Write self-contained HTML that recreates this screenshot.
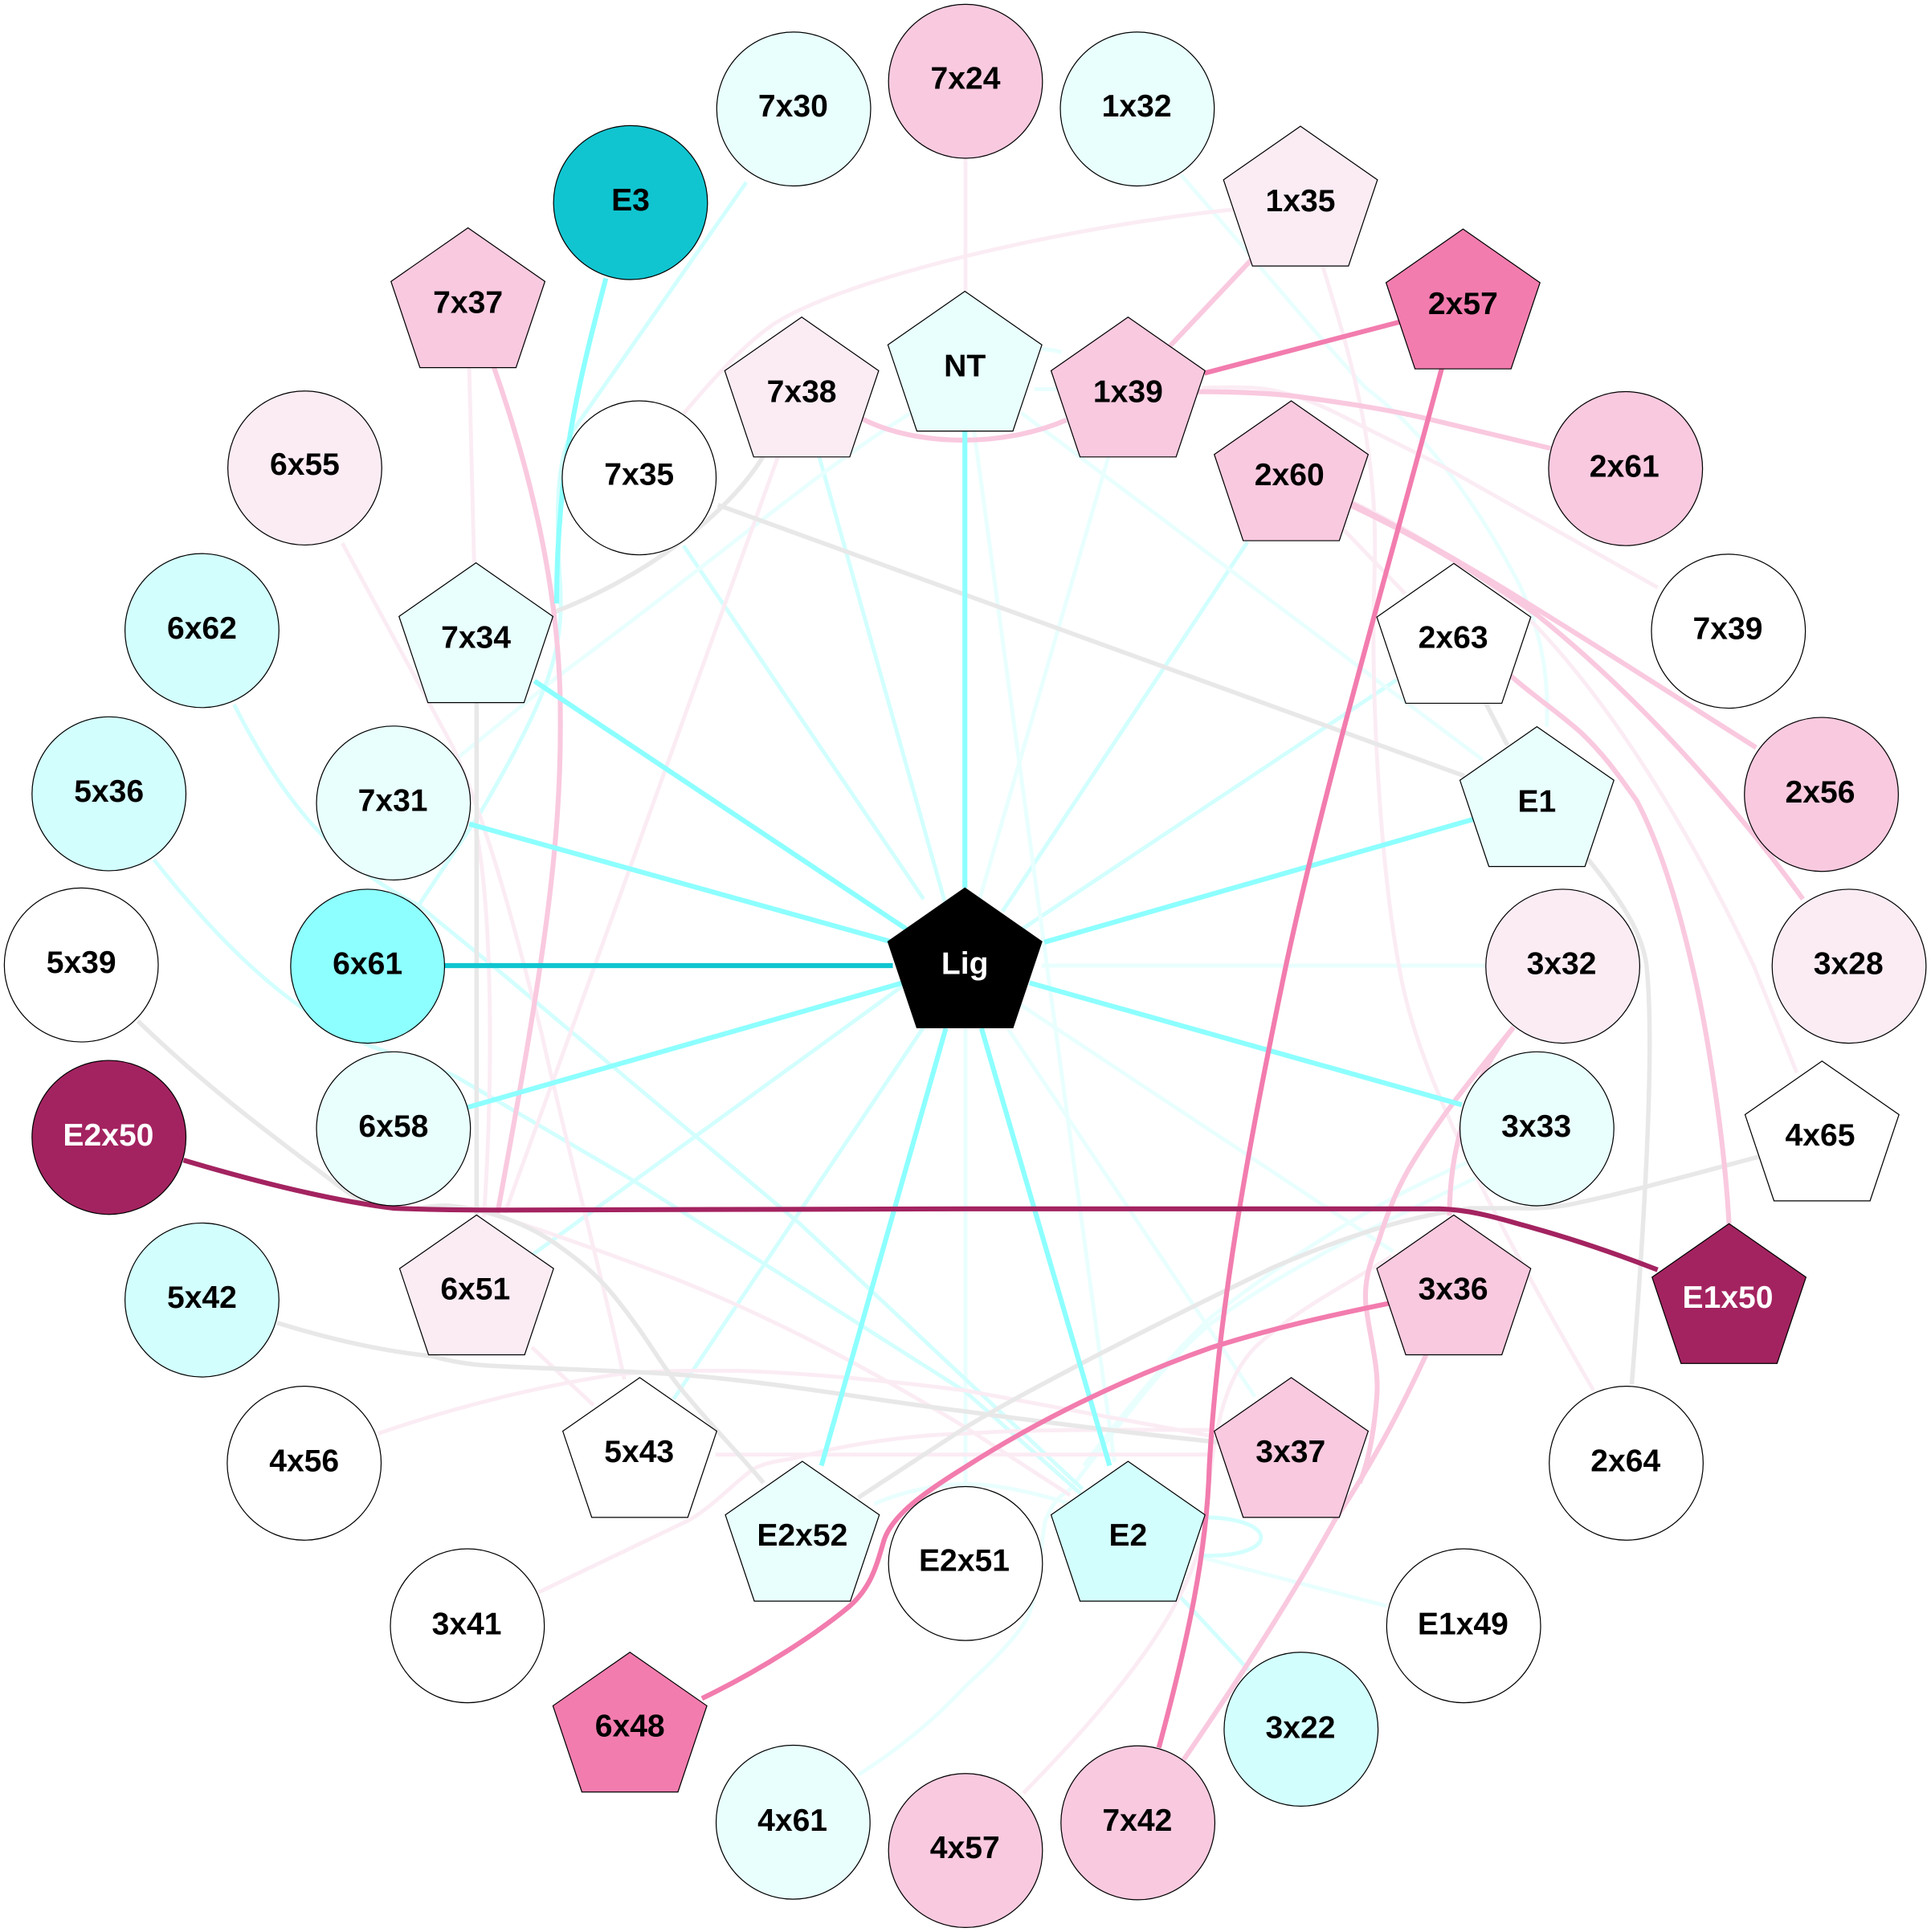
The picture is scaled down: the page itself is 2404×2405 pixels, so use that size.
<!DOCTYPE html>
<html><head><meta charset="utf-8"><style>
html,body{margin:0;padding:0;background:#fff}
svg{display:block}
text{font-family:"Liberation Sans",Arial,sans-serif;font-weight:bold;font-size:25.5px;text-anchor:middle;fill:#000}
.n circle,.n polygon,.n use{stroke:#000;stroke-width:.8}
.e path{fill:none;stroke-width:3.2}
.e path.k{stroke-width:3.6}
.e path.c,.e path.d,.e path.g,.e path.h,.e path.m{stroke-width:4}
.a{stroke:#E8FFFE}.b{stroke:#D2FFFE}.c{stroke:#8DFFFF}.d{stroke:#10C5D0}
.f{stroke:#FBECF4}.g{stroke:#F9C9DF}.h{stroke:#F27CAE}.m{stroke:#A32360}.k{stroke:#E8E8E8}
</style></head><body>
<svg xmlns="http://www.w3.org/2000/svg" width="2404" height="2405" viewBox="0 0 1568 1568.65">
<defs><polygon id="p" points="0,0 62.5,43.5 39,113.5 -39,113.5 -62.5,43.5"/></defs>
<rect width="1568" height="1569" fill="#fff"/>
<g class="e">
<path class="a" d="M846,784H1206"/>
<path class="a" d="M784,835V1206"/>
<path class="a" d="M900,371L794,735"/>
<path class="b" d="M1013,440L814,740"/>
<path class="b" d="M1134,552L829,755"/>
<path class="b" d="M432,1019L735,799"/>
<path class="b" d="M547,1136L750,834"/>
<path class="a" d="M1131,1016L829,816"/>
<path class="a" d="M1019,1134L819,836"/>
<path class="b" d="M555,443L750,730"/>
<path class="b" d="M665,370L768,735"/>
<path class="a" d="M829,335L1204,617"/>
<path class="a" d="M791,350C820,560 860,860 905,1187"/>
<path class="a" d="M740,335C660,385 600,440 452,550L372,615"/>
<path class="a" d="M959,142C1010,200 1060,262 1109,315C1150,345 1195,400 1234,475C1250,510 1258,545 1256,590"/>
<path class="a" d="M840,316H868M836,283C845,283 855,284 862,286"/>
<path class="a" d="M697,1441C730,1420 760,1395 784,1369C805,1350 825,1330 834,1314C845,1290 845,1250 849,1234C855,1220 860,1215 869,1209C900,1170 940,1110 984,1074C1050,1025 1130,990 1199,956"/>
<path class="a" d="M1191,944C1130,970 1060,1010 984,1069C950,1100 910,1150 880,1190"/>
<path class="a" d="M710,1221C730,1212 760,1205 784,1205C810,1205 840,1212 869,1221"/>
<path class="a" d="M974,1264L1126,1304"/>
<path class="b" d="M956,1294L1014,1356"/>
<path class="b" d="M976,1232C1040,1232 1040,1265 976,1263"/>
<path class="b" d="M190,572C230,650 270,700 340,735L400,784L650,994L879,1209"/>
<path class="b" d="M125,698C170,755 230,820 300,849C325,858 350,865 370,874L515,959L784,1130L880,1215"/>
<path class="b" d="M606,148L465,350C450,375 452,430 455,475C458,530 445,565 390,660L340,735"/>
<path class="f" d="M381,298L385,457"/>
<path class="f" d="M784,129V237"/>
<path class="f" d="M278,441L367,605C395,665 420,760 440,840C460,930 490,1040 507,1120"/>
<path class="f" d="M385,668C398,720 402,850 393,988"/>
<path class="f" d="M632,370L483,784L410,985"/>
<path class="f" d="M555,336C585,300 610,275 630,262C690,225 860,185 1002,170"/>
<path class="f" d="M976,315C1000,314 1020,314 1034,317C1060,322 1085,335 1104,345C1130,358 1155,370 1174,380L1346,477"/>
<path class="f" d="M1074,216C1100,300 1120,370 1116,470C1113,560 1120,700 1137,790C1150,860 1190,950 1294,1129"/>
<path class="f" d="M1099,408C1150,432 1210,470 1249,510C1310,575 1370,670 1424,784L1459,871"/>
<path class="f" d="M1091,430L1141,482"/>
<path class="f" d="M307,1164C370,1142 440,1125 500,1116C540,1112 570,1113 600,1113C660,1115 730,1122 784,1129L984,1166"/>
<path class="f" d="M581,1181H985"/>
<path class="f" d="M437,1293L560,1234C580,1222 595,1205 610,1194C620,1187 635,1186 645,1184C690,1172 740,1165 784,1164C840,1160 920,1161 984,1161"/>
<path class="f" d="M432,1094L482,1141"/>
<path class="f" d="M400,986C450,1002 500,1020 550,1039C640,1075 720,1120 784,1159L869,1214"/>
<path class="f" d="M831,1456C900,1385 965,1310 978,1240C985,1170 990,1125 1019,1094C1050,1065 1090,1045 1130,1020"/>
<path class="k" d="M387,570V987"/>
<path class="k" d="M450,497C520,470 590,420 620,370"/>
<path class="k" d="M583,410L1189,630"/>
<path class="k" d="M1206,570L1224,605"/>
<path class="k" d="M1289,697C1320,735 1334,760 1337,784C1343,840 1338,960 1325,1124"/>
<path class="k" d="M112,829C170,885 225,925 270,959C290,975 305,981 320,981C340,983 350,978 365,979C395,982 425,992 450,1009C470,1023 485,1035 500,1054C525,1085 535,1105 550,1124C575,1155 600,1180 620,1204"/>
<path class="k" d="M225,1074C270,1088 310,1097 350,1101C365,1105 380,1108 400,1109C460,1112 510,1113 550,1116C630,1122 710,1137 784,1146C850,1155 930,1165 1000,1172"/>
<path class="k" d="M1429,939C1380,952 1330,966 1284,976C1260,982 1240,981 1234,981H1194C1140,988 1090,1005 1034,1029C980,1055 930,1080 884,1104C850,1122 815,1140 784,1159L697,1216"/>
<path class="g" d="M700,340C745,363 815,363 866,341"/>
<path class="g" d="M1016,211L950,281"/>
<path class="g" d="M972,318C1000,318 1030,319 1054,322C1090,327 1125,332 1159,340L1259,364"/>
<path class="g" d="M1096,410C1150,435 1200,465 1249,500C1330,565 1410,655 1464,730"/>
<path class="g" d="M1096,408C1170,445 1230,483 1300,527L1426,607"/>
<path class="g" d="M1226,548C1245,565 1265,578 1284,595C1305,615 1318,635 1329,650C1350,690 1365,745 1374,784C1385,830 1400,920 1404,994"/>
<path class="g" d="M1229,834C1200,870 1177,920 1177,987"/>
<path class="g" d="M1229,834C1200,870 1170,905 1144,949C1132,970 1125,990 1119,1009C1110,1030 1108,1045 1109,1059C1112,1085 1120,1110 1118,1134C1116,1160 1112,1185 1104,1204"/>
<path class="g" d="M1158,1100C1135,1150 1110,1195 1084,1234C1050,1295 1005,1365 961,1429"/>
<path class="g" d="M401,298C435,395 455,490 455,580C456,690 440,790 404,985"/>
<path class="c" d="M492,226C470,310 452,380 452,490"/>
<path class="c" d="M783.5,350V721"/>
<path class="c" d="M434,553L740,757"/>
<path class="c" d="M381,669L725,765"/>
<path class="c" d="M380,899L733,798"/>
<path class="c" d="M1197,665L848,765"/>
<path class="c" d="M1187,897L836,798"/>
<path class="c" d="M667,1190L768,835"/>
<path class="c" d="M901,1190L797,835"/>
<path class="d" d="M361,784H725"/>
<path class="h" d="M978,303L1138,261"/>
<path class="h" d="M1171,298C1125,470 1075,640 1044,785C1020,900 990,1050 982,1190C980,1260 965,1330 941,1419"/>
<path class="h" d="M570,1379C620,1355 665,1325 690,1304C708,1288 712,1270 718,1250C725,1230 750,1212 784,1191C840,1155 910,1120 984,1094C1035,1078 1080,1068 1129,1058"/>
<path class="m" d="M149,942C210,960 270,975 320,981C345,982 375,982.5 400,982.5L784,981.5H1169C1190,982 1210,987 1234,994C1275,1005 1310,1017 1346,1031"/>
</g>
<g class="n">
<use href="#p" x="783.5" y="721" fill="#000"/>
<use href="#p" x="380" y="185" fill="#F9C9DF"/>
<use href="#p" x="651" y="257.5" fill="#FBECF4"/>
<use href="#p" x="386.5" y="457" fill="#E8FFFE"/>
<use href="#p" x="783.5" y="236.5" fill="#E8FFFE"/>
<use href="#p" x="1056" y="102.5" fill="#FBECF4"/>
<use href="#p" x="1188" y="186" fill="#F27CAE"/>
<use href="#p" x="916" y="257.5" fill="#F9C9DF"/>
<use href="#p" x="1048.5" y="325.5" fill="#F9C9DF"/>
<use href="#p" x="1180.5" y="457.5" fill="#fff"/>
<use href="#p" x="1248" y="590" fill="#E8FFFE"/>
<use href="#p" x="387" y="986.5" fill="#FBECF4"/>
<use href="#p" x="519.5" y="1118.5" fill="#fff"/>
<use href="#p" x="651.5" y="1186.5" fill="#E8FFFE"/>
<use href="#p" x="511.5" y="1341.5" fill="#F27CAE"/>
<use href="#p" x="1180.5" y="986.5" fill="#F9C9DF"/>
<use href="#p" x="1048.5" y="1118.5" fill="#F9C9DF"/>
<use href="#p" x="916" y="1186.5" fill="#D2FFFE"/>
<use href="#p" x="1404" y="993.5" fill="#A32360"/>
<use href="#p" x="1479.5" y="861.5" fill="#fff"/>
<circle cx="644.5" cy="88.5" r="62.5" fill="#E8FFFE"/>
<circle cx="784" cy="66" r="62.5" fill="#F9C9DF"/>
<circle cx="923.5" cy="88.5" r="62.5" fill="#E8FFFE"/>
<circle cx="512" cy="164.5" r="62.5" fill="#10C5D0"/>
<circle cx="247.5" cy="380" r="62.5" fill="#FBECF4"/>
<circle cx="519" cy="388" r="62.5" fill="#fff"/>
<circle cx="164" cy="512" r="62.5" fill="#D2FFFE"/>
<circle cx="319.5" cy="652" r="62.5" fill="#E8FFFE"/>
<circle cx="88.5" cy="644.5" r="62.5" fill="#D2FFFE"/>
<circle cx="66" cy="783.5" r="62.5" fill="#fff"/>
<circle cx="298.5" cy="784.5" r="62.5" fill="#8DFFFF"/>
<circle cx="1320" cy="380.5" r="62.5" fill="#F9C9DF"/>
<circle cx="1403.5" cy="512.5" r="62.5" fill="#fff"/>
<circle cx="1479" cy="645" r="62.5" fill="#F9C9DF"/>
<circle cx="1269" cy="784.5" r="62.5" fill="#FBECF4"/>
<circle cx="1501.5" cy="784.5" r="62.5" fill="#FBECF4"/>
<circle cx="88.5" cy="923.5" r="62.5" fill="#A32360"/>
<circle cx="319.5" cy="916.5" r="62.5" fill="#E8FFFE"/>
<circle cx="164" cy="1055.5" r="62.5" fill="#D2FFFE"/>
<circle cx="247" cy="1188" r="62.5" fill="#fff"/>
<circle cx="379.5" cy="1320" r="62.5" fill="#fff"/>
<circle cx="784" cy="1269.5" r="62.5" fill="#fff"/>
<circle cx="644" cy="1479.5" r="62.5" fill="#E8FFFE"/>
<circle cx="784" cy="1502.5" r="62.5" fill="#F9C9DF"/>
<circle cx="1248" cy="916.5" r="62.5" fill="#E8FFFE"/>
<circle cx="1320.5" cy="1188" r="62.5" fill="#fff"/>
<circle cx="1188.5" cy="1320" r="62.5" fill="#fff"/>
<circle cx="1056.5" cy="1404" r="62.5" fill="#D2FFFE"/>
<circle cx="924" cy="1480" r="62.5" fill="#F9C9DF"/>
</g>
<g transform="translate(0,-1)">
<text x="783.5" y="792" style="fill:#fff">Lig</text>
<text x="380" y="255">7x37</text>
<text x="651" y="327.5">7x38</text>
<text x="386.5" y="527">7x34</text>
<text x="783.5" y="306.5">NT</text>
<text x="1056" y="172.5">1x35</text>
<text x="1188" y="256">2x57</text>
<text x="916" y="327.5">1x39</text>
<text x="1047" y="395">2x60</text>
<text x="1180" y="527">2x63</text>
<text x="1248" y="660">E1</text>
<text x="386" y="1056">6x51</text>
<text x="519" y="1188">5x43</text>
<text x="651.5" y="1256">E2x52</text>
<text x="511.5" y="1411">6x48</text>
<text x="1180" y="1056">3x36</text>
<text x="1048" y="1188">3x37</text>
<text x="916" y="1256">E2</text>
<text x="1403" y="1063" style="fill:#fff">E1x50</text>
<text x="1478" y="931">4x65</text>
<text x="644" y="95.5">7x30</text>
<text x="784" y="73">7x24</text>
<text x="923" y="95.5">1x32</text>
<text x="512" y="172">E3</text>
<text x="247.5" y="386.5">6x55</text>
<text x="519" y="394.5">7x35</text>
<text x="164" y="519.5">6x62</text>
<text x="319" y="659.5">7x31</text>
<text x="88.5" y="652">5x36</text>
<text x="66" y="791">5x39</text>
<text x="298.5" y="792">6x61</text>
<text x="1319" y="388">2x61</text>
<text x="1403" y="520">7x39</text>
<text x="1478" y="652.5">2x56</text>
<text x="1268" y="792">3x32</text>
<text x="1501" y="792">3x28</text>
<text x="88" y="931" style="fill:#fff">E2x50</text>
<text x="319.5" y="924">6x58</text>
<text x="164" y="1063">5x42</text>
<text x="247" y="1195.5">4x56</text>
<text x="379" y="1328">3x41</text>
<text x="783" y="1276.5">E2x51</text>
<text x="643.5" y="1487.5">4x61</text>
<text x="783.5" y="1509.5">4x57</text>
<text x="1247.5" y="924">3x33</text>
<text x="1320" y="1195.5">2x64</text>
<text x="1188" y="1328">E1x49</text>
<text x="1056" y="1412">3x22</text>
<text x="923.5" y="1487.5">7x42</text>
</g>
</svg>
</body></html>
